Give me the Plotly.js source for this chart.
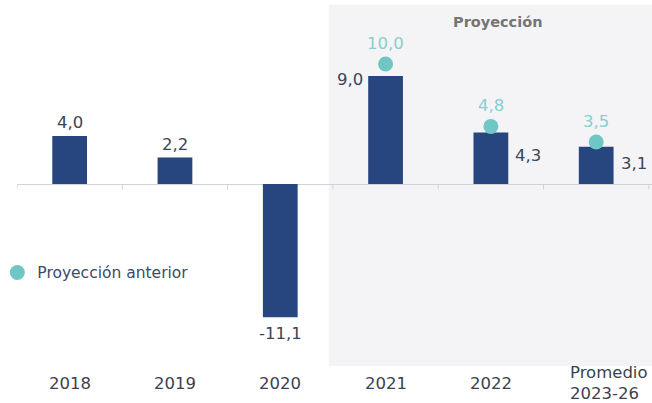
<!DOCTYPE html>
<html>
<head>
<meta charset="utf-8">
<script src="https://cdn.plot.ly/plotly-3.0.1.min.js"></script>
<style>html,body{margin:0;padding:0;background:#fff;}#chart{width:652px;height:403px;}</style>
</head>
<body>
<div id="chart"></div>
<script>
const categories = ["2018", "2019", "2020", "2021", "2022", "Promedio<br>2023-26"];
const actualValues = [4.0, 2.2, -11.1, 9.0, 4.3, 3.1];
const previousProjection = [null, null, null, 10.0, 4.8, 3.5];
const labelText = ["4,0", "2,2", "-11,1", "9,0", "4,3", "3,1"];
const previousLabelText = [null, null, null, "10,0", "4,8", "3,5"];
const legendName = "Proyección anterior";
const shadeTitle = "Proyección";

const FONT = "DejaVu Sans, Verdana, sans-serif";
const barColor = "#27457f";
const tealColor = "#6ec6c5";
const tealText = "#84d0cf";
const darkText = "#3b4557";

const xIdx = categories.map((c, i) => i);

const bars = {
  type: "bar",
  x: xIdx,
  y: actualValues,
  width: 0.33,
  marker: {color: barColor},
  showlegend: false,
  hoverinfo: "skip"
};

const dots = {
  type: "scatter",
  mode: "markers",
  x: xIdx,
  y: previousProjection,
  name: legendName,
  marker: {color: tealColor, size: 15},
  showlegend: true,
  hoverinfo: "skip"
};

const placement = ["above", "above", "below", "left", "right", "right"];
const annotations = [];
actualValues.forEach((v, i) => {
  const base = {x: i, showarrow: false, text: labelText[i],
    font: {family: FONT, size: 16.5, color: darkText}};
  if (placement[i] === "above") {
    annotations.push(Object.assign(base, {y: v, yanchor: "bottom", yshift: 2}));
  } else if (placement[i] === "below") {
    annotations.push(Object.assign(base, {y: v, yanchor: "top", yshift: -5}));
  } else if (placement[i] === "left") {
    annotations.push(Object.assign(base, {x: i - 0.165, y: v, xanchor: "right", yanchor: "middle", xshift: -3, yshift: -3}));
  } else {
    annotations.push(Object.assign(base, {x: i + 0.165, y: v * 0.55, xanchor: "left", yanchor: "middle", xshift: 5}));
  }
});
previousProjection.forEach((v, i) => {
  if (v === null) return;
  annotations.push({x: i, y: v, yanchor: "bottom", yshift: 9, showarrow: false,
    text: previousLabelText[i],
    font: {family: FONT, size: 16.5, color: tealText}});
});
categories.forEach((c, i) => {
  const last = c.indexOf("<br>") >= 0;
  annotations.push({x: i, xref: "x", y: 0, yref: "paper", yanchor: "middle", yshift: -17,
    xshift: last ? 13 : 0, align: last ? "left" : "center",
    showarrow: false, text: c,
    font: {family: FONT, size: 16.5, color: "#3c414c"}});
});
annotations.push({x: 4.06, xref: "x", y: 0.953, yref: "paper", showarrow: false,
  text: "<b>" + shadeTitle + "</b>", yanchor: "middle",
  font: {family: FONT, size: 14.5, color: "#747474"}});

const shapes = [
  {type: "rect", xref: "x", yref: "paper", x0: 2.46, x1: 5.53, y0: 0, y1: 1,
   fillcolor: "#f4f4f6", line: {width: 0}, layer: "below"}
];
for (let b = -0.5; b <= 5.5; b += 1) {
  shapes.push({type: "line", xref: "x", yref: "y", x0: b, x1: b, y0: 0, y1: -0.45,
    line: {color: "#cfd3da", width: 1}, layer: "below"});
}

const layout = {
  width: 652, height: 403,
  margin: {l: 17, r: 0, t: 5, b: 37, autoexpand: false},
  paper_bgcolor: "#ffffff",
  plot_bgcolor: "rgba(0,0,0,0)",
  xaxis: {
    range: [-0.5, 5.53],
    tickvals: xIdx,
    showticklabels: false,
    showgrid: false, zeroline: false, showline: false, ticks: "",
    fixedrange: true
  },
  yaxis: {
    range: [-15.17, 14.92],
    showgrid: false, showticklabels: false, ticks: "",
    zeroline: true, zerolinecolor: "#cfd3da", zerolinewidth: 1,
    fixedrange: true
  },
  legend: {x: -0.031, xanchor: "left", y: 0.258, yanchor: "middle",
    bgcolor: "rgba(0,0,0,0)",
    font: {family: FONT, size: 15.5, color: "#3a4a6a"}},
  annotations: annotations,
  shapes: shapes,
  bargap: 0.67
};

Plotly.newPlot("chart", [bars, dots], layout, {displayModeBar: false, staticPlot: true});
</script>
</body>
</html>
